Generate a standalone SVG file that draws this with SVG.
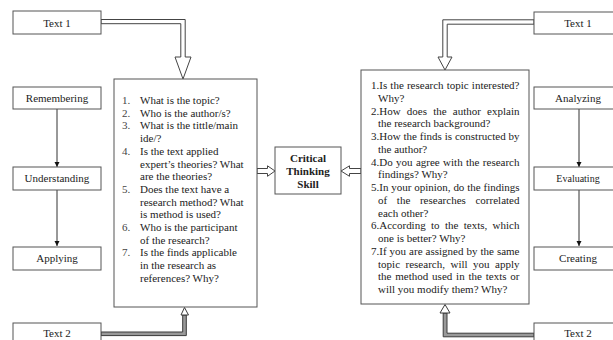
<svg xmlns="http://www.w3.org/2000/svg" width="613" height="340" viewBox="0 0 613 340">
<style>
  .box{fill:#fff;stroke:#555;stroke-width:1}
  .lbl{font-family:"Liberation Serif","Times New Roman",serif;font-size:11px;fill:#222;text-anchor:middle}
  .sm{font-size:10px}
  .bold{font-weight:bold}
  .txt{font-family:"Liberation Serif","Times New Roman",serif;font-size:11px;fill:#222}
  .num{fill:#444}
  .blk{fill:#fff;stroke:#444;stroke-width:1;stroke-linejoin:miter}
  .blkd{fill:#999;stroke:#3a3a3a;stroke-width:1}
  .head{fill:#fff;stroke:#3a3a3a;stroke-width:1}
  .ln{stroke:#333;stroke-width:1;fill:none}
</style>
<defs>
  <marker id="tri" viewBox="0 0 10 10" refX="10" refY="5" markerWidth="5.5" markerHeight="5.5" markerUnits="userSpaceOnUse" orient="auto">
    <path d="M0,0 L10,5 L0,10 Z" fill="#111"/>
  </marker>
</defs>
<rect width="613" height="340" fill="#fff"/>

<g id="connectors">
  <!-- Text 1 (left) to left question box -->
  <polygon class="blk" points="101,19.5 185.2,19.5 185.2,57 191,57 183,79 175,57 180.8,57 180.8,23.7 101,23.7"/>
  <!-- Text 1 (right) to right question box -->
  <polygon class="blk" points="534,19.8 442.8,19.8 442.8,57 438,57 445,70 452,57 447.2,57 447.2,24.2 534,24.2"/>
  <!-- Text 2 (left) to left question box -->
  <polygon class="blkd" points="101,332 182.7,332 182.7,315 186.3,315 186.3,335.6 101,335.6"/>
  <polygon class="head" points="181,315 188.5,315 184.5,307.5"/>
  <!-- Text 2 (right) to right question box -->
  <polygon class="blkd" points="534,333.2 447,333.2 447,313 443.2,313 443.2,336.8 534,336.8"/>
  <polygon class="head" points="440,313 450,313 445,304.5"/>
  <!-- boxes to Critical Thinking Skill -->
  <polygon class="blk" points="257,168.5 267.5,168.5 267.5,165.8 275,171 267.5,176.3 267.5,173.5 257,173.5"/>
  <polygon class="blk" points="361,168.5 349.5,168.5 349.5,165.8 341,171 349.5,176.3 349.5,173.5 361,173.5"/>
  <!-- taxonomy arrows -->
  <line class="ln" x1="57" y1="109" x2="57" y2="167" marker-end="url(#tri)"/>
  <line class="ln" x1="57" y1="190" x2="57" y2="246" marker-end="url(#tri)"/>
  <line class="ln" x1="579" y1="109" x2="579" y2="167" marker-end="url(#tri)"/>
  <line class="ln" x1="579" y1="190" x2="579" y2="246" marker-end="url(#tri)"/>
</g>

<g id="text1-left">
  <rect class="box" x="13" y="11" width="88" height="23"/>
  <text class="lbl" x="57" y="26.5">Text 1</text>
</g>
<g id="remembering">
  <rect class="box" x="13" y="87" width="88" height="22"/>
  <text class="lbl" x="57" y="102">Remembering</text>
</g>
<g id="understanding">
  <rect class="box" x="13" y="167" width="88" height="23"/>
  <text class="lbl" x="57" y="181.5">Understanding</text>
</g>
<g id="applying">
  <rect class="box" x="13" y="247" width="88" height="23"/>
  <text class="lbl" x="57" y="262">Applying</text>
</g>
<g id="text2-left">
  <rect class="box" x="13" y="323" width="88" height="24"/>
  <text class="lbl" x="57" y="337">Text 2</text>
</g>

<g id="questions-left">
  <rect class="box" x="114" y="79" width="143" height="228"/>
  <g class="txt">
    <text class="num" x="122" y="104">1.</text><text x="140" y="104">What is the topic?</text>
    <text class="num" x="122" y="116.7">2.</text><text x="140" y="116.7">Who is the author/s?</text>
    <text class="num" x="122" y="129.4">3.</text><text x="140" y="129.4">What is the tittle/main</text>
    <text x="140" y="142.1">ide/?</text>
    <text class="num" x="122" y="154.8">4.</text><text x="140" y="154.8">Is the text applied</text>
    <text x="140" y="167.5">expert’s theories? What</text>
    <text x="140" y="180.2">are the theories?</text>
    <text class="num" x="122" y="192.9">5.</text><text x="140" y="192.9">Does the text have a</text>
    <text x="140" y="205.6">research method? What</text>
    <text x="140" y="218.3">is method is used?</text>
    <text class="num" x="122" y="231">6.</text><text x="140" y="231">Who is the participant</text>
    <text x="140" y="243.7">of the research?</text>
    <text class="num" x="122" y="256.4">7.</text><text x="140" y="256.4">Is the finds applicable</text>
    <text x="140" y="269.1">in the research as</text>
    <text x="140" y="281.8">references? Why?</text>
  </g>
</g>

<g id="critical-thinking-skill">
  <rect class="box" x="275" y="147" width="66" height="47"/>
  <text class="lbl bold" x="308" y="162">Critical</text>
  <text class="lbl bold" x="308" y="175">Thinking</text>
  <text class="lbl bold" x="308" y="187.5">Skill</text>
</g>

<g id="questions-right">
  <rect class="box" x="361" y="70" width="168" height="234"/>
  <g class="txt">
    <text x="371" y="89" word-spacing="0.4" textLength="148.5" lengthAdjust="spacing">1.Is the research topic interested?</text>
    <text x="378" y="101.75">Why?</text>
    <text x="371" y="114.5" word-spacing="3.4" textLength="148.5" lengthAdjust="spacing">2.How does the author explain</text>
    <text x="378" y="127.25">the research background?</text>
    <text x="371" y="140" word-spacing="0.1" textLength="148.5" lengthAdjust="spacing">3.How the finds is constructed by</text>
    <text x="378" y="152.75">the author?</text>
    <text x="371" y="165.5" word-spacing="0.6" textLength="148.5" lengthAdjust="spacing">4.Do you agree with the research</text>
    <text x="378" y="178.25">findings? Why?</text>
    <text x="371" y="191" word-spacing="0.1" textLength="148.5" lengthAdjust="spacing">5.In your opinion, do the findings</text>
    <text x="378" y="203.75" word-spacing="6.9" textLength="141.5" lengthAdjust="spacing">of the researches correlated</text>
    <text x="378" y="216.5">each other?</text>
    <text x="371" y="229.25" word-spacing="2.6" textLength="148.5" lengthAdjust="spacing">6.According to the texts, which</text>
    <text x="378" y="242">one is better? Why?</text>
    <text x="371" y="254.75" word-spacing="0.25" textLength="148.5" lengthAdjust="spacing">7.If you are assigned by the same</text>
    <text x="378" y="267.5" word-spacing="2.7" textLength="141.5" lengthAdjust="spacing">topic research, will you apply</text>
    <text x="378" y="280.25" word-spacing="1.05" textLength="141.5" lengthAdjust="spacing">the method used in the texts or</text>
    <text x="378" y="293">will you modify them? Why?</text>
  </g>
</g>

<g id="text1-right">
  <rect class="box" x="534" y="12" width="88" height="22"/>
  <text class="lbl" x="578" y="27">Text 1</text>
</g>
<g id="analyzing">
  <rect class="box" x="534" y="87" width="88" height="22"/>
  <text class="lbl" x="578" y="102">Analyzing</text>
</g>
<g id="evaluating">
  <rect class="box" x="534" y="167" width="88" height="23"/>
  <text class="lbl sm" x="578" y="181.5">Evaluating</text>
</g>
<g id="creating">
  <rect class="box" x="534" y="247" width="88" height="23"/>
  <text class="lbl" x="578" y="262">Creating</text>
</g>
<g id="text2-right">
  <rect class="box" x="534" y="323" width="88" height="24"/>
  <text class="lbl" x="578" y="337">Text 2</text>
</g>
</svg>
